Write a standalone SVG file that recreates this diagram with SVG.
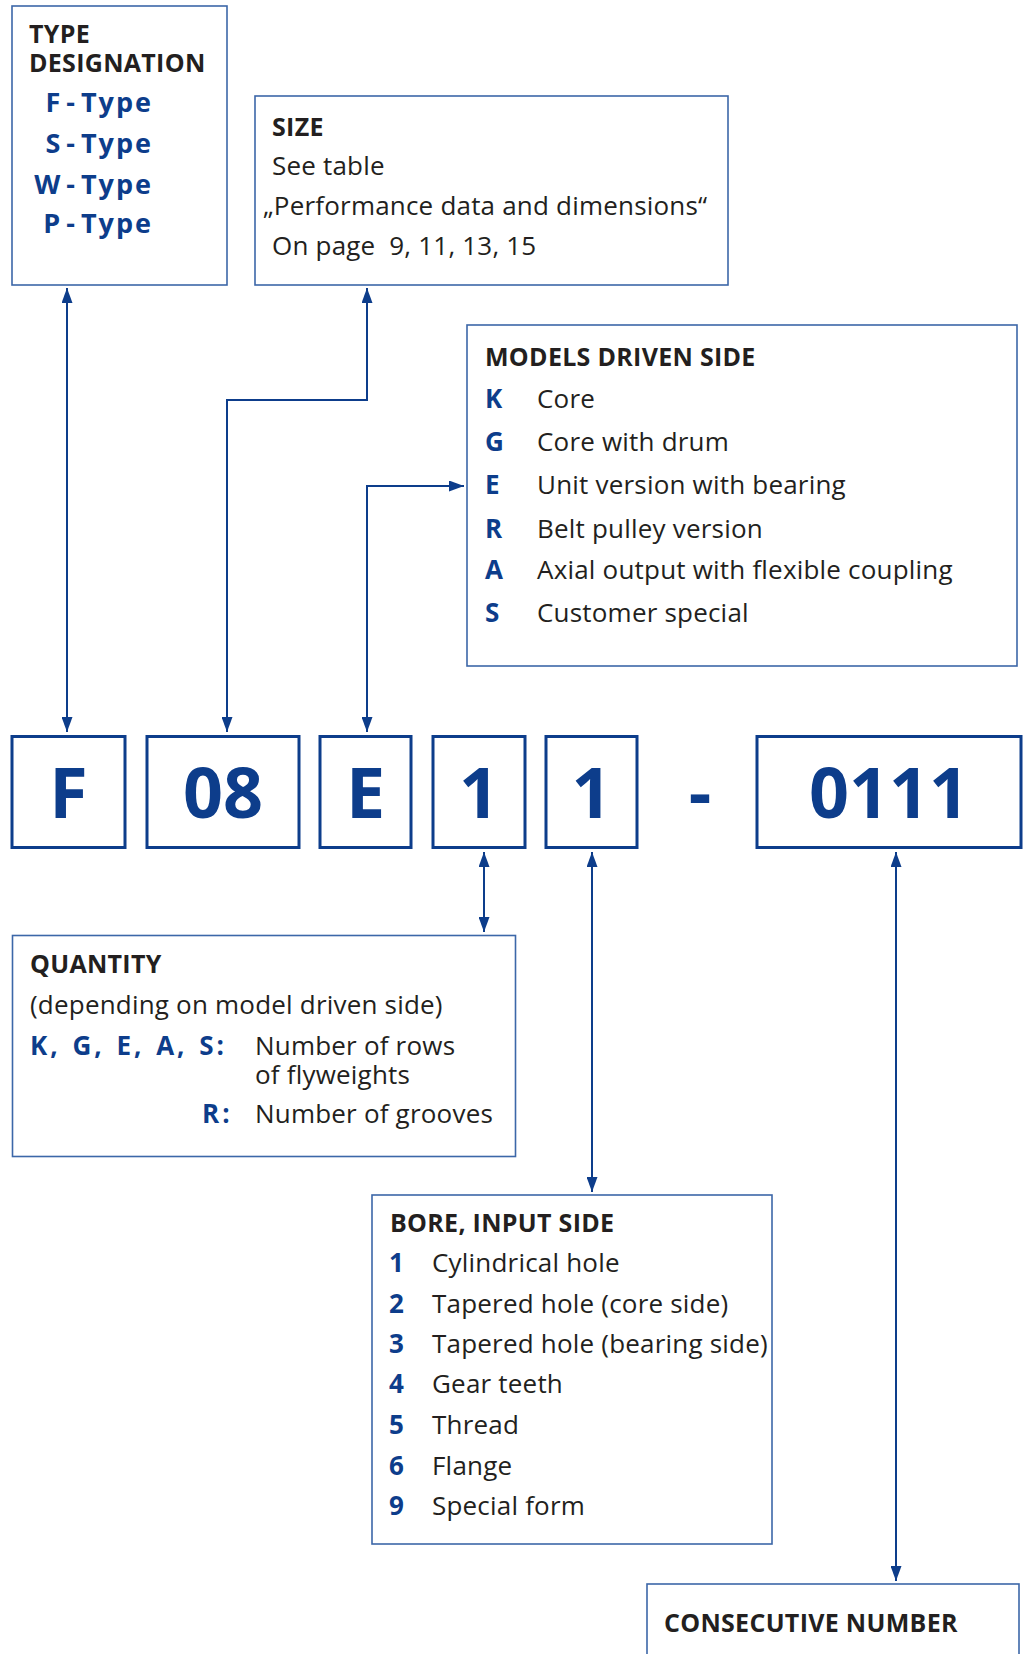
<svg xmlns="http://www.w3.org/2000/svg" width="1023" height="1654" viewBox="0 0 1023 1654">
<style>
.box{fill:#fff;stroke:#3c67a8;stroke-width:1.6}
.code{fill:#fff;stroke:#0d3d8b;stroke-width:3}
.t{font-family:"Open Sans","Noto Sans",sans-serif;font-size:26px;letter-spacing:0.2px;fill:#231f20}
.h{font-family:"Open Sans","Noto Sans",sans-serif;font-size:25px;letter-spacing:0.3px;font-weight:700;fill:#231f20}
.k{font-family:"Open Sans","Noto Sans",sans-serif;font-size:26px;font-weight:700;fill:#0d3d8b}
.ty{font-family:"Open Sans","Noto Sans",sans-serif;font-size:27px;font-weight:700;fill:#0d3d8b;letter-spacing:2px;text-anchor:end}
.big{font-family:"Open Sans","Noto Sans",sans-serif;font-size:70px;font-weight:700;fill:#0d3d8b;text-anchor:middle}
.ln{fill:none;stroke:#0d3d8b;stroke-width:2;marker-start:url(#ah);marker-end:url(#ah)}
</style>
<defs>
<marker id="ah" viewBox="0 0 15 11" refX="15" refY="5.5" markerWidth="15" markerHeight="11" orient="auto-start-reverse" markerUnits="userSpaceOnUse">
<path d="M0,0 L15,5.5 L0,11 z" fill="#0d3d8b"/>
</marker>
</defs>
<rect width="1023" height="1654" fill="#fff"/>

<g id="connectors">
<path class="ln" d="M67,288 V732"/>
<path class="ln" d="M367,288 V400 H227 V732"/>
<path class="ln" d="M464,486 H367 V732"/>
<path class="ln" d="M484,852 V932"/>
<path class="ln" d="M592,852 V1192"/>
<path class="ln" d="M896,852 V1581"/>
</g>

<g id="type-designation">
<rect class="box" x="12" y="6" width="215" height="279"/>
<text class="h" x="29" y="43">TYPE</text>
<text class="h" x="29" y="72">DESIGNATION</text>
<text class="ty" x="153" y="112">F<tspan dx="4">-</tspan><tspan dx="4">Type</tspan></text>
<text class="ty" x="153" y="153">S<tspan dx="4">-</tspan><tspan dx="4">Type</tspan></text>
<text class="ty" x="153" y="194">W<tspan dx="4">-</tspan><tspan dx="4">Type</tspan></text>
<text class="ty" x="153" y="233">P<tspan dx="4">-</tspan><tspan dx="4">Type</tspan></text>
</g>

<g id="size">
<rect class="box" x="255" y="96" width="473" height="189"/>
<text class="h" x="272" y="136">SIZE</text>
<text class="t" x="272" y="175">See table</text>
<text class="t" x="263" y="215">„Performance data and dimensions“</text>
<text class="t" x="272" y="255" xml:space="preserve">On page  9, 11, 13, 15</text>
</g>

<g id="models-driven-side">
<rect class="box" x="467" y="325" width="550" height="341"/>
<text class="h" x="485" y="366">MODELS DRIVEN SIDE</text>
<text class="k" x="485" y="408">K</text><text class="t" x="537" y="408">Core</text>
<text class="k" x="485" y="451">G</text><text class="t" x="537" y="451">Core with drum</text>
<text class="k" x="485" y="494">E</text><text class="t" x="537" y="494">Unit version with bearing</text>
<text class="k" x="485" y="538">R</text><text class="t" x="537" y="538">Belt pulley version</text>
<text class="k" x="485" y="579">A</text><text class="t" x="537" y="579">Axial output with flexible coupling</text>
<text class="k" x="485" y="622">S</text><text class="t" x="537" y="622">Customer special</text>
</g>

<g id="code-F"><rect class="code" x="12" y="736.5" width="113" height="111"/><text class="big" x="68.5" y="818">F</text></g>
<g id="code-08"><rect class="code" x="147" y="736.5" width="152" height="111"/><text class="big" x="223" y="818">08</text></g>
<g id="code-E"><rect class="code" x="320" y="736.5" width="91" height="111"/><text class="big" x="365.5" y="818">E</text></g>
<g id="code-1a"><rect class="code" x="433" y="736.5" width="92" height="111"/><text class="big" x="479" y="818">1</text></g>
<g id="code-1b"><rect class="code" x="546" y="736.5" width="91" height="111"/><text class="big" x="591.5" y="818">1</text></g>
<g id="code-dash"><text class="big" x="700" y="818">-</text></g>
<g id="code-0111"><rect class="code" x="757" y="736.5" width="264" height="111"/><text class="big" x="889" y="818">0111</text></g>

<g id="quantity">
<rect class="box" x="12.5" y="935.5" width="503" height="221"/>
<text class="h" x="30" y="973">QUANTITY</text>
<text class="t" x="30" y="1014">(depending on model driven side)</text>
<text class="k" x="30" y="1055" letter-spacing="3" word-spacing="2">K, G, E, A, S:</text>
<text class="t" x="255" y="1055">Number of rows</text>
<text class="t" x="255" y="1084">of flyweights</text>
<text class="k" x="202" y="1123" letter-spacing="3">R:</text>
<text class="t" x="255" y="1123">Number of grooves</text>
</g>

<g id="bore-input-side">
<rect class="box" x="372" y="1195" width="400" height="349"/>
<text class="h" x="390" y="1232">BORE, INPUT SIDE</text>
<text class="k" x="389" y="1272">1</text><text class="t" x="432" y="1272">Cylindrical hole</text>
<text class="k" x="389" y="1313">2</text><text class="t" x="432" y="1313">Tapered hole (core side)</text>
<text class="k" x="389" y="1353">3</text><text class="t" x="432" y="1353">Tapered hole (bearing side)</text>
<text class="k" x="389" y="1393">4</text><text class="t" x="432" y="1393">Gear teeth</text>
<text class="k" x="389" y="1434">5</text><text class="t" x="432" y="1434">Thread</text>
<text class="k" x="389" y="1475">6</text><text class="t" x="432" y="1475">Flange</text>
<text class="k" x="389" y="1515">9</text><text class="t" x="432" y="1515">Special form</text>
</g>

<g id="consecutive-number">
<rect class="box" x="647" y="1584" width="372" height="90"/>
<text class="h" x="664" y="1632">CONSECUTIVE NUMBER</text>
</g>
</svg>
